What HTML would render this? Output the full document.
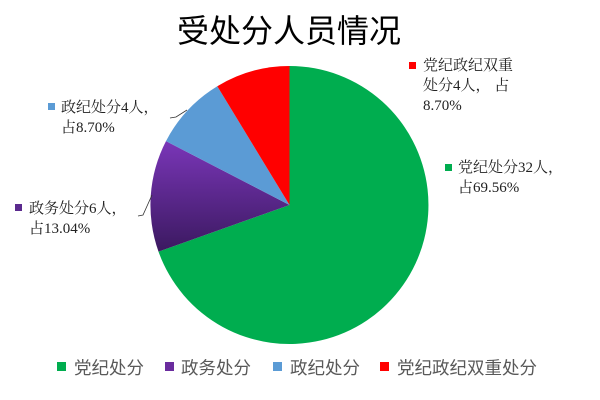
<!DOCTYPE html>
<html><head><meta charset="utf-8"><style>
body{margin:0;background:#fff;}
svg{display:block;}
.l{font-family:"Liberation Serif","Noto Serif CJK SC",serif;font-size:15px;fill:#222;}
.g{font-family:"Liberation Sans","Noto Sans CJK SC",sans-serif;font-size:17.5px;fill:#595959;}
</style></head><body>
<svg width="600" height="400" viewBox="0 0 600 400" xmlns="http://www.w3.org/2000/svg">
<defs><linearGradient id="pg" x1="0" y1="0" x2="0" y2="1">
<stop offset="0" stop-color="#7a36b8"/><stop offset="1" stop-color="#3b1960"/></linearGradient></defs>
<text x="289" y="42" text-anchor="middle" font-family="'Liberation Sans','Noto Sans CJK SC',sans-serif" font-size="32" fill="#000">受处分人员情况</text>
<g transform="translate(289.5,205)">
<path d="M0,0 L0,-139 A139,139 0 1 1 -131,46.6 Z" fill="#00ad4f"/>
<path d="M0,0 L-131,46.6 A139,139 0 0 1 -123.5,-63.9 Z" fill="url(#pg)"/>
<path d="M0,0 L-123.5,-63.9 A139,139 0 0 1 -72.2,-118.8 Z" fill="#5b9bd5"/>
<path d="M0,0 L-72.2,-118.8 A139,139 0 0 1 0,-139 Z" fill="#ff0000"/>
</g>
<polyline points="170,118 176,117 187,110" fill="none" stroke="#333" stroke-width="0.8"/>
<polyline points="138,216 143,215 152,195" fill="none" stroke="#333" stroke-width="0.8"/>
<rect x="48" y="103" width="7" height="7" fill="#5b9bd5"/>
<text class="l" x="61" y="112">政纪处分4人，</text>
<text class="l" x="61" y="132">占8.70%</text>
<rect x="15" y="204" width="7" height="7" fill="#5b2a8e"/>
<text class="l" x="29" y="213">政务处分6人，</text>
<text class="l" x="29" y="233">占13.04%</text>
<rect x="409" y="62" width="7" height="7" fill="#ff0000"/>
<text class="l" x="423" y="70">党纪政纪双重</text>
<text class="l" x="423" y="90">处分4人， 占</text>
<text class="l" x="423" y="110">8.70%</text>
<rect x="445" y="164" width="7" height="7" fill="#00ad4f"/>
<text class="l" x="458" y="172">党纪处分32人，</text>
<text class="l" x="458" y="192">占69.56%</text>
<rect x="57" y="362" width="9" height="9" fill="#00ad4f"/>
<text class="g" x="74" y="374">党纪处分</text>
<rect x="165" y="362" width="9" height="9" fill="#6a2c9e"/>
<text class="g" x="181" y="374">政务处分</text>
<rect x="273" y="362" width="9" height="9" fill="#5b9bd5"/>
<text class="g" x="290" y="374">政纪处分</text>
<rect x="380" y="362" width="9" height="9" fill="#ff0000"/>
<text class="g" x="397" y="374">党纪政纪双重处分</text>
</svg>
</body></html>
